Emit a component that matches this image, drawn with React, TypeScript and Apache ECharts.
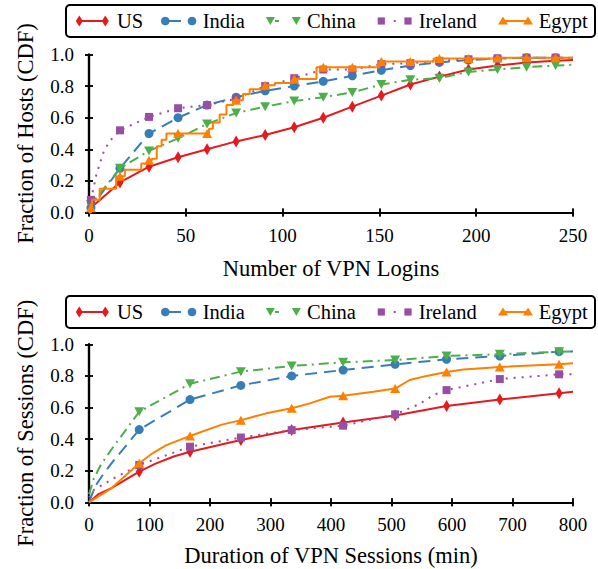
import React, { useEffect, useRef } from "react";
import * as echarts from "echarts";

const FONT = "'Liberation Serif', 'DejaVu Serif', serif";
const SERIES_NAMES = ["US", "India", "China", "Ireland", "Egypt"];
const COLORS = ["#e41a1c", "#377eb8", "#4daf4a", "#984ea3", "#ff7f00"];

// ---------- Top chart: Number of VPN Logins ----------
const TOP_X_LABEL = "Number of VPN Logins";
const TOP_Y_LABEL = "Fraction of Hosts (CDF)";
const TOP_MARK_X = [1, 16, 31, 46, 61, 76, 91, 106, 121, 136, 151, 166, 181, 196, 211, 226, 241];

const TOP_US_X = [0, 1, 16, 31, 46, 61, 76, 91, 106, 121, 136, 151, 166, 181, 196, 211, 226, 241, 250];
const TOP_US_Y = [0, 0.03, 0.19, 0.29, 0.35, 0.4, 0.45, 0.49, 0.54, 0.6, 0.67, 0.74, 0.81, 0.86, 0.905, 0.93, 0.95, 0.96, 0.965];

const TOP_INDIA_X = [0, 1, 16, 31, 46, 61, 76, 91, 106, 121, 136, 151, 166, 181, 196, 211, 226, 241, 250];
const TOP_INDIA_Y = [0, 0.03, 0.28, 0.5, 0.6, 0.68, 0.73, 0.77, 0.8, 0.83, 0.865, 0.9, 0.93, 0.95, 0.965, 0.975, 0.98, 0.98, 0.98];

const TOP_CHINA_X = [0, 1, 16, 31, 46, 61, 76, 91, 106, 121, 136, 151, 166, 181, 196, 211, 226, 241, 250];
const TOP_CHINA_Y = [0, 0.05, 0.28, 0.39, 0.47, 0.56, 0.63, 0.67, 0.705, 0.73, 0.76, 0.81, 0.84, 0.85, 0.89, 0.905, 0.92, 0.93, 0.935];

const TOP_IRELAND_X = [0, 1, 4, 8, 12, 16, 31, 46, 61, 76, 91, 106, 121, 136, 151, 166, 181, 196, 211, 226, 241, 250];
const TOP_IRELAND_Y = [0.03, 0.08, 0.25, 0.4, 0.47, 0.52, 0.605, 0.66, 0.68, 0.72, 0.8, 0.85, 0.905, 0.905, 0.94, 0.945, 0.96, 0.97, 0.975, 0.98, 0.98, 0.98];

const TOP_EGYPT_X = [0, 1, 1.5, 5.5, 14, 16, 18.5, 27, 31, 32.5, 35, 37.5, 40, 46, 61, 62, 64, 67.5, 71, 74.5, 76, 79.5, 83, 91, 96, 105.5, 106, 117.5, 121, 136, 150, 151, 166, 178, 181, 196, 211, 226, 241, 250];
const TOP_EGYPT_Y = [0, 0.03, 0.08, 0.15, 0.23, 0.23, 0.27, 0.31, 0.33, 0.34, 0.42, 0.46, 0.5, 0.5, 0.5, 0.53, 0.57, 0.62, 0.68, 0.71, 0.71, 0.75, 0.78, 0.805, 0.82, 0.845, 0.845, 0.92, 0.92, 0.92, 0.955, 0.955, 0.955, 0.975, 0.975, 0.975, 0.98, 0.98, 0.98, 0.98];

// ---------- Bottom chart: Duration of VPN Sessions ----------
const BOT_X_LABEL = "Duration of VPN Sessions (min)";
const BOT_Y_LABEL = "Fraction of Sessions (CDF)";
const BOT_MARK_X = [83, 167, 251, 335, 420, 506, 591, 679, 777];

const BOT_US_X = [0, 15, 37, 83, 110, 140, 167, 251, 335, 420, 506, 591, 679, 777, 800];
const BOT_US_Y = [0, 0.05, 0.09, 0.194, 0.245, 0.29, 0.32, 0.394, 0.457, 0.505, 0.55, 0.61, 0.65, 0.69, 0.7];

const BOT_INDIA_X = [0, 10, 24, 40, 83, 167, 251, 335, 420, 506, 591, 679, 777, 800];
const BOT_INDIA_Y = [0, 0.1, 0.18, 0.26, 0.46, 0.65, 0.74, 0.8, 0.837, 0.873, 0.905, 0.926, 0.953, 0.955];

const BOT_CHINA_X = [0, 8, 20, 40, 83, 167, 251, 335, 420, 506, 591, 679, 777, 800];
const BOT_CHINA_Y = [0.05, 0.15, 0.24, 0.35, 0.573, 0.75, 0.827, 0.863, 0.886, 0.9, 0.926, 0.937, 0.953, 0.955];

const BOT_IRELAND_X = [0, 8, 40, 83, 167, 251, 335, 420, 506, 545, 570, 591, 679, 777, 800];
const BOT_IRELAND_Y = [0.03, 0.078, 0.15, 0.236, 0.352, 0.41, 0.457, 0.485, 0.557, 0.62, 0.68, 0.71, 0.78, 0.81, 0.81];

const BOT_EGYPT_X = [0, 37.5, 83, 105, 127, 167, 218, 251, 293, 335, 365, 398, 420, 470, 506, 530, 558, 591, 619, 679, 777, 800];
const BOT_EGYPT_Y = [0, 0.09, 0.247, 0.31, 0.36, 0.42, 0.49, 0.52, 0.563, 0.595, 0.626, 0.668, 0.675, 0.7, 0.72, 0.774, 0.8, 0.825, 0.84, 0.857, 0.873, 0.88];

const TOP_SERIES_X = [TOP_US_X, TOP_INDIA_X, TOP_CHINA_X, TOP_IRELAND_X, TOP_EGYPT_X];
const TOP_SERIES_Y = [TOP_US_Y, TOP_INDIA_Y, TOP_CHINA_Y, TOP_IRELAND_Y, TOP_EGYPT_Y];
const BOT_SERIES_X = [BOT_US_X, BOT_INDIA_X, BOT_CHINA_X, BOT_IRELAND_X, BOT_EGYPT_X];
const BOT_SERIES_Y = [BOT_US_Y, BOT_INDIA_Y, BOT_CHINA_Y, BOT_IRELAND_Y, BOT_EGYPT_Y];

// styles per series
const SYMBOLS = ["diamond", "circle", "triangle", "rect", "triangle"];
const SYMBOL_SIZES: any[] = [[7, 12], 9, [10, 9], 8, [10, 9]];
const SYMBOL_ROTATE = [0, 0, 180, 0, 0];
const DASHES: any[] = ["solid", [12, 7], [10, 5, 2, 5], [2, 6], "solid"];

const GRID_LEFT = 89;
const GRID_RIGHT = 25;

function buildData(xs: number[], ys: number[], marks: number[]) {
  return xs.map((x, i) =>
    marks.indexOf(x) >= 0 ? { value: [x, ys[i]] } : { value: [x, ys[i]], symbol: "none" }
  );
}

function axesFor(kind: "x" | "y", gridIndex: number, min: number, max: number, interval: number, name: string, nameGap: number) {
  const common = {
    type: "value",
    gridIndex,
    min,
    max,
    interval,
    splitLine: { show: false },
  };
  const tickStyle = { color: "#000", width: 1.5 };
  const posA = kind === "x" ? "bottom" : "left";
  const posB = kind === "x" ? "top" : "right";
  return [
    {
      ...common,
      position: posA,
      axisLine: { show: true, lineStyle: { color: "#000", width: 2.2 } },
      axisTick: { show: true, inside: false, length: 4, lineStyle: tickStyle },
      axisLabel: {
        show: true,
        color: "#000",
        fontFamily: FONT,
        fontSize: 19,
        margin: kind === "x" ? 13 : 15,
        showMaxLabel: true,
        showMinLabel: true,
        formatter: (v: number) => (kind === "y" ? v.toFixed(1) : String(v)),
      },
      name,
      nameLocation: "middle",
      nameGap,
      nameTextStyle: { color: "#000", fontFamily: FONT, fontSize: 22.5 },
    },
    {
      ...common,
      position: posA,
      axisLine: { show: false },
      axisTick: { show: true, inside: true, length: 4, lineStyle: tickStyle },
      axisLabel: { show: false },
    },
    {
      ...common,
      position: posB,
      axisLine: { show: true, lineStyle: { color: "#000", width: 2.2 } },
      axisTick: { show: true, inside: false, length: 4, lineStyle: tickStyle },
      axisLabel: { show: false },
    },
    {
      ...common,
      position: posB,
      axisLine: { show: false },
      axisTick: { show: true, inside: true, length: 4, lineStyle: tickStyle },
      axisLabel: { show: false },
    },
  ];
}

function seriesFor(axisIndex: number, xsList: number[][], ysList: number[][], marks: number[]) {
  return SERIES_NAMES.map((name, i) => ({
    name,
    type: "line",
    xAxisIndex: axisIndex,
    yAxisIndex: axisIndex,
    data: buildData(xsList[i], ysList[i], marks),
    step: name === "Egypt" && axisIndex === 0 ? "end" : undefined,
    symbol: SYMBOLS[i],
    symbolSize: SYMBOL_SIZES[i],
    symbolRotate: SYMBOL_ROTATE[i],
    showSymbol: true,
    showAllSymbol: true,
    lineStyle: { color: COLORS[i], width: 2, type: DASHES[i] },
    itemStyle: { color: COLORS[i] },
    z: 2 + i,
    clip: false,
  }));
}

// Legend icons positions
const LEG_BOX_LEFT = 66;
const LEG_BOX_WIDTH = 529;
const LEG_BOX_HEIGHT = 32;
const LEG_M1 = [79.3, 165.3, 270.3, 381.3, 503];
const LEG_M2 = [105.3, 192, 296.3, 408, 528];
const LEG_TEXT_X = [117, 202.7, 307, 418.7, 538.7];

function markerEl(i: number, cx: number, cy: number) {
  const c = COLORS[i];
  if (i === 0)
    return { type: "polygon", shape: { points: [[cx, cy - 5.5], [cx + 3.5, cy], [cx, cy + 5.5], [cx - 3.5, cy]] }, style: { fill: c } };
  if (i === 1) return { type: "circle", shape: { cx, cy, r: 4.3 }, style: { fill: c } };
  if (i === 2)
    return { type: "polygon", shape: { points: [[cx - 4.5, cy - 4], [cx + 4.5, cy - 4], [cx, cy + 4]] }, style: { fill: c } };
  if (i === 3) return { type: "rect", shape: { x: cx - 3.6, y: cy - 3.6, width: 7.2, height: 7.2 }, style: { fill: c } };
  return { type: "polygon", shape: { points: [[cx, cy - 4.5], [cx + 5, cy + 3.5], [cx - 5, cy + 3.5]] }, style: { fill: c } };
}

function legendElements(top: number) {
  const cy = top + LEG_BOX_HEIGHT / 2;
  const els: any[] = [
    {
      type: "rect",
      shape: { x: LEG_BOX_LEFT, y: top, width: LEG_BOX_WIDTH, height: LEG_BOX_HEIGHT, r: 4 },
      style: { fill: "#fff", stroke: "#000", lineWidth: 2 },
    },
  ];
  const segs = [
    [LEG_M1[0], LEG_M2[0]],
    [LEG_M1[1], 181],
    [275, 279],
    [393.7, 395.7],
    [LEG_M1[4], LEG_M2[4]],
  ];
  SERIES_NAMES.forEach((name, i) => {
    els.push({
      type: "line",
      shape: { x1: segs[i][0], y1: cy, x2: segs[i][1], y2: cy },
      style: { stroke: COLORS[i], lineWidth: 2 },
    });
    els.push(markerEl(i, LEG_M1[i], cy));
    els.push(markerEl(i, LEG_M2[i], cy));
    els.push({
      type: "text",
      x: LEG_TEXT_X[i],
      y: cy,
      style: { text: name, fill: "#000", fontSize: 20.5, fontFamily: FONT, verticalAlign: "middle", align: "left" },
    });
  });
  return els;
}

export default function App() {
  const ref = useRef<HTMLDivElement>(null);
  useEffect(() => {
    if (!ref.current) return;
    const chart = echarts.init(ref.current, undefined, { renderer: "svg" });
    const option: any = {
      animation: false,
      backgroundColor: "#fff",
      textStyle: { fontFamily: FONT },
      grid: [
        { left: GRID_LEFT, right: GRID_RIGHT, top: 54.5, height: 158 },
        { left: GRID_LEFT, right: GRID_RIGHT, top: 344.3, height: 158 },
      ],
      xAxis: [
        ...axesFor("x", 0, 0, 250, 50, TOP_X_LABEL, 44),
        ...axesFor("x", 1, 0, 800, 100, BOT_X_LABEL, 42),
      ],
      yAxis: [
        ...axesFor("y", 0, 0, 1, 0.2, TOP_Y_LABEL, 52),
        ...axesFor("y", 1, 0, 1, 0.2, BOT_Y_LABEL, 52),
      ],
      series: [
        ...seriesFor(0, TOP_SERIES_X, TOP_SERIES_Y, TOP_MARK_X),
        ...seriesFor(4, BOT_SERIES_X, BOT_SERIES_Y, BOT_MARK_X),
      ],
      graphic: [...legendElements(5), ...legendElements(296)],
    };
    chart.setOption(option);
    return () => chart.dispose();
  }, []);
  return (
    <div
      ref={ref}
      style={{ position: "fixed", left: 0, top: 0, width: 598, height: 569, background: "#fff" }}
    />
  );
}
